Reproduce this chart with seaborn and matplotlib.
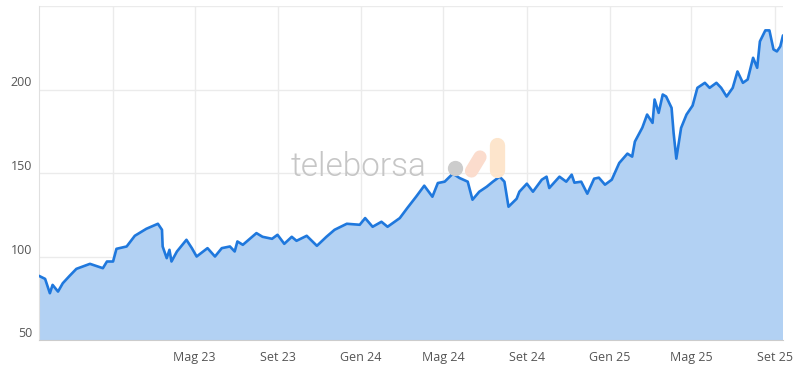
import pandas as pd
import matplotlib.pyplot as plt
import seaborn as sns

# Stile
sns.set_style("white")
plt.rcParams['font.family'] = ['Open Sans', 'DejaVu Sans']

# Dati (prezzo di chiusura)
dates = [
    "2022-09-14", "2022-09-23", "2022-09-30", "2022-10-04", "2022-10-12", "2022-10-19",
    "2022-10-29", "2022-11-08", "2022-11-28", "2022-12-17", "2022-12-23", "2023-01-01",
    "2023-01-06", "2023-01-21", "2023-02-02", "2023-02-19", "2023-03-08", "2023-03-14",
    "2023-03-15", "2023-03-21", "2023-03-25", "2023-03-28", "2023-04-05", "2023-04-19",
    "2023-04-27", "2023-05-04", "2023-05-20", "2023-05-31", "2023-06-10", "2023-06-22",
    "2023-06-29", "2023-07-03", "2023-07-11", "2023-07-31", "2023-08-09", "2023-08-23",
    "2023-08-31", "2023-09-10", "2023-09-21", "2023-09-28", "2023-10-13", "2023-10-28",
    "2023-11-11", "2023-11-23", "2023-12-11", "2023-12-30", "2024-01-07", "2024-01-18",
    "2024-01-31", "2024-02-09", "2024-02-27", "2024-03-09", "2024-03-22", "2024-04-03",
    "2024-04-15", "2024-04-23", "2024-05-03", "2024-05-15", "2024-05-25", "2024-06-06",
    "2024-06-13", "2024-06-23", "2024-07-04", "2024-07-13", "2024-07-23", "2024-07-30",
    "2024-08-05", "2024-08-17", "2024-08-21", "2024-09-01", "2024-09-10", "2024-09-23",
    "2024-09-30", "2024-10-04", "2024-10-19", "2024-10-29", "2024-11-06", "2024-11-10",
    "2024-11-20", "2024-11-29", "2024-12-09", "2024-12-16", "2024-12-25", "2025-01-04",
    "2025-01-15", "2025-01-27", "2025-02-03", "2025-02-07", "2025-02-18", "2025-02-25",
    "2025-03-05", "2025-03-08", "2025-03-14", "2025-03-20", "2025-03-25", "2025-04-02",
    "2025-04-05", "2025-04-09", "2025-04-16", "2025-04-24", "2025-05-03", "2025-05-10",
    "2025-05-21", "2025-05-28", "2025-06-07", "2025-06-14", "2025-06-22", "2025-07-01",
    "2025-07-08", "2025-07-16", "2025-07-23", "2025-07-31", "2025-08-06", "2025-08-10",
    "2025-08-18", "2025-08-24", "2025-08-30", "2025-09-04", "2025-09-09", "2025-09-13",
]
prices = [
    88.4, 86.6, 78.0, 83.0, 79.0, 84.0,
    88.4, 92.6, 95.6, 93.0, 97.0, 97.0,
    104.6, 106.0, 112.4, 116.6, 119.6, 116.0,
    106.0, 99.0, 104.0, 97.0, 103.0, 110.0,
    105.0, 100.0, 105.0, 100.0, 105.0, 106.0,
    103.0, 109.0, 107.0, 114.0, 111.8, 110.6,
    113.0, 107.6, 111.8, 109.4, 112.4, 106.4,
    111.8, 116.0, 119.6, 119.0, 123.0, 117.8,
    120.8, 117.8, 123.0, 129.0, 135.8, 142.4,
    135.8, 144.0, 144.8, 149.6, 147.0, 144.8,
    134.0, 138.8, 141.8, 144.8, 147.8, 144.8,
    129.8, 134.6, 138.8, 143.6, 138.8, 146.0,
    147.8, 141.0, 147.8, 144.8, 149.0, 144.2,
    144.8, 137.6, 146.6, 147.2, 143.0, 146.0,
    156.0, 161.6, 159.8, 168.8, 177.2, 185.0,
    180.0, 194.0, 186.0, 197.0, 195.8, 189.0,
    174.0, 158.6, 177.0, 185.0, 190.4, 201.0,
    204.0, 201.0, 204.0, 201.0, 195.8, 201.0,
    210.8, 204.0, 206.0, 219.0, 213.0, 228.8,
    235.4, 235.4, 224.0, 222.8, 225.8, 232.4,
]

tick_dates = ["2023-01-01", "2023-05-01", "2023-09-01", "2024-01-01", "2024-05-01",
              "2024-09-01", "2025-01-01", "2025-05-01", "2025-09-01"]
tick_labels = ["", "Mag 23", "Set 23", "Gen 24", "Mag 24",
               "Set 24", "Gen 25", "Mag 25", "Set 25"]
y_ticks = [50, 100, 150, 200, 250]
y_labels = ["50", "100", "150", "200", ""]

df = pd.DataFrame({"data": pd.to_datetime(dates), "prezzo": prices})

W, H = 805, 383
fig = plt.figure(figsize=(W / 100, H / 100), dpi=100)
ax = fig.add_axes([39 / W, 1 - 340 / H, 744 / W, 334 / H])

ax.fill_between(df["data"], df["prezzo"], 0, color="#b2d1f3", zorder=2, linewidth=0)
sns.lineplot(x="data", y="prezzo", data=df, ax=ax, color="#1f78dd", linewidth=1.9, zorder=3)

ax.set_xlim(pd.Timestamp("2022-09-14"), pd.Timestamp("2025-09-13"))
ax.set_ylim(50, 250)
ax.set_xticks(pd.to_datetime(tick_dates))
ax.set_xticklabels(tick_labels)
ax.set_yticks(y_ticks)
ax.set_yticklabels(y_labels, va="bottom")
ax.grid(True, color="#ebebeb", linewidth=1, zorder=1)
ax.set_axisbelow(True)
ax.tick_params(axis="both", length=0, labelsize=9, labelcolor="#555555")
ax.tick_params(axis="x", pad=8)
ax.tick_params(axis="y", pad=5)
ax.set_xlabel("")
ax.set_ylabel("")
for side in ["top", "right"]:
    ax.spines[side].set_visible(False)
ax.spines["left"].set_color("#e0e0e0")
ax.spines["bottom"].set_color("#cccccc")

# Watermark teleborsa (coordinate in pixel dell'immagine)
def fx(x):
    return x / W

def fy(y):
    return 1 - y / H

fig.text(fx(291), fy(176), "teleborsa", fontsize=24, color="#c6c6c6",
         fontweight=300, family=["Roboto", "DejaVu Sans"], va="baseline", ha="left", zorder=5)
fig.lines.append(plt.Line2D([fx(455)], [fy(168)], transform=fig.transFigure, marker="o",
                            markersize=10, color="#cccccc", linestyle="none", zorder=5))
fig.lines.append(plt.Line2D([fx(471.5), fx(480)], [fy(171), fy(157)],
                            transform=fig.transFigure, color="#fbdccd", linewidth=9.5,
                            solid_capstyle="round", zorder=5))
fig.lines.append(plt.Line2D([fx(497), fx(497)], [fy(170), fy(145)],
                            transform=fig.transFigure, color="#fde5cc", linewidth=11,
                            solid_capstyle="round", zorder=5))

fig.savefig("out.png", dpi=100)
